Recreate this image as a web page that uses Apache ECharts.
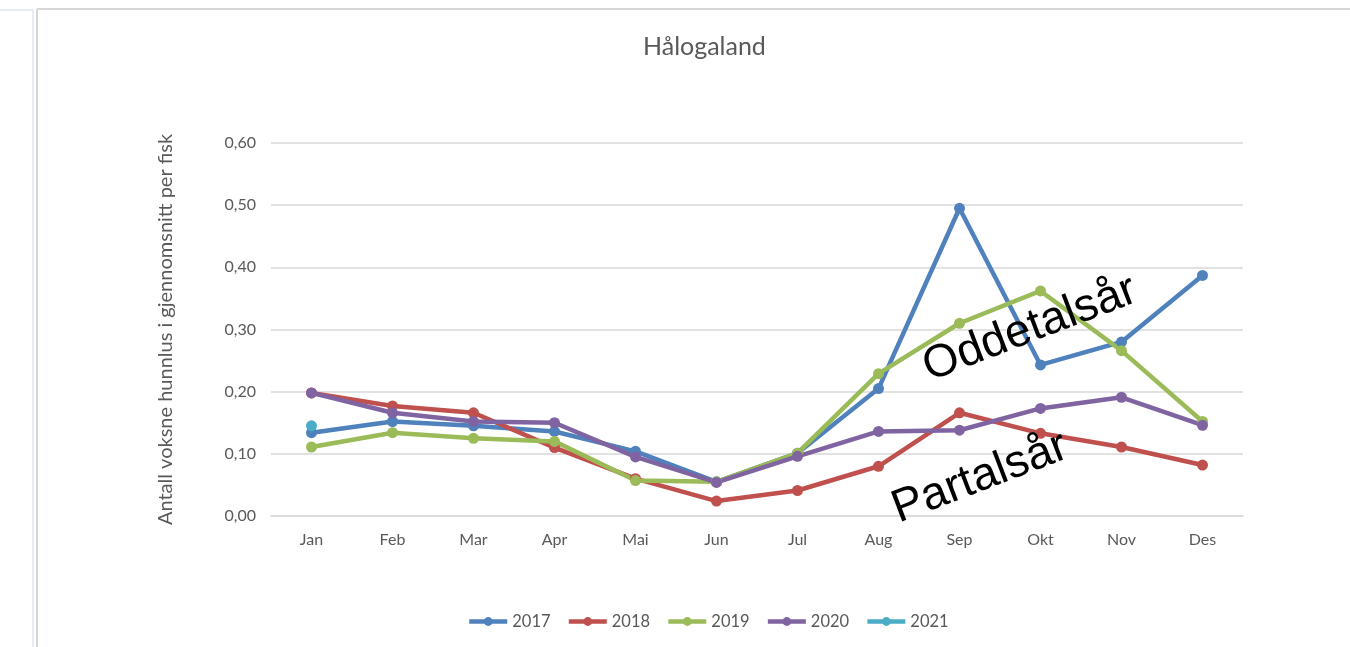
<!DOCTYPE html>
<html>
<head>
<meta charset="utf-8">
<title>Hålogaland</title>
<script src="https://cdn.jsdelivr.net/npm/echarts@6/dist/echarts.min.js"></script>
<style>
    html, body { margin: 0; padding: 0; background: #fff; }
    #chart { width: 1350px; height: 647px; }
</style>
</head>
<body>
<div id="chart"></div>
<script>
// months on the x axis
var months = ['Jan', 'Feb', 'Mar', 'Apr', 'Mai', 'Jun', 'Jul', 'Aug', 'Sep', 'Okt', 'Nov', 'Des'];
var yTicks = [0, 0.1, 0.2, 0.3, 0.4, 0.5, 0.6];

// average adult female lice per fish
var y2017 = [0.134, 0.152, 0.145, 0.136, 0.104, 0.055, 0.101, 0.205, 0.495, 0.243, 0.280, 0.387];
var y2018 = [0.198, 0.177, 0.166, 0.110, 0.060, 0.024, 0.041, 0.080, 0.166, 0.133, 0.111, 0.082];
var y2019 = [0.111, 0.134, 0.125, 0.120, 0.057, 0.055, 0.101, 0.229, 0.310, 0.362, 0.266, 0.152];
var y2020 = [0.198, 0.166, 0.152, 0.150, 0.095, 0.054, 0.096, 0.136, 0.138, 0.173, 0.191, 0.146];
var y2021 = [0.145, null, null, null, null, null, null, null, null, null, null, null];

var years = ['2017', '2018', '2019', '2020', '2021'];
var colors = ['#4f81bd', '#c0504d', '#9bbb59', '#8064a2', '#4bacc6'];
var values = [y2017, y2018, y2019, y2020, y2021];

var txtColor = '#595959';
var font = 'Lato, "Open Sans", sans-serif';

var chart = echarts.init(document.getElementById('chart'));

var series = years.map(function (name, i) {
    return {
        name: name,
        type: 'line',
        data: values[i],
        symbol: 'circle',
        symbolSize: 11,
        lineStyle: {width: 4.5},
        itemStyle: {color: colors[i]}
    };
});

var option = {
    animation: false,
    color: colors,
    title: {
        text: 'Hålogaland',
        left: 638,
        top: 29,
        textStyle: {color: txtColor, fontSize: 25, fontWeight: 'normal', fontFamily: font}
    },
    legend: {
        data: years,
        top: 608,
        left: 462,
        itemWidth: 38,
        itemHeight: 11,
        itemGap: 16,
        lineStyle: {width: 4.5},
        textStyle: {color: txtColor, fontSize: 16.5, fontFamily: font}
    },
    grid: {left: 271, right: 107, top: 143, bottom: 131},
    xAxis: {
        type: 'category',
        data: months,
        axisLine: {lineStyle: {color: '#d9d9d9', width: 1.5}},
        axisTick: {show: false},
        axisLabel: {color: txtColor, fontSize: 16, fontFamily: font, margin: 16}
    },
    yAxis: {
        type: 'value',
        min: yTicks[0],
        max: yTicks[yTicks.length - 1],
        interval: 0.1,
        name: 'Antall voksne hunnlus i gjennomsnitt per fisk',
        nameLocation: 'middle',
        nameRotate: 90,
        nameGap: 95,
        nameTextStyle: {color: txtColor, fontSize: 20, fontFamily: font},
        axisLine: {show: false},
        axisTick: {show: false},
        splitLine: {lineStyle: {color: '#d9d9d9', width: 1.5}},
        axisLabel: {
            color: txtColor, fontSize: 16, fontFamily: font, margin: 15,
            formatter: function (v) { return v.toFixed(2).replace('.', ','); }
        }
    },
    graphic: [
        // page frame around the chart
        {type: 'line', shape: {x1: 0, y1: 10, x2: 33, y2: 10}, style: {stroke: '#dce6f2', lineWidth: 1.5}},
        {type: 'line', shape: {x1: 33, y1: 10, x2: 33, y2: 647}, style: {stroke: '#dce6f2', lineWidth: 1.5}},
        {type: 'line', shape: {x1: 37, y1: 9, x2: 1350, y2: 9}, style: {stroke: '#d6d6d6', lineWidth: 2}},
        {type: 'line', shape: {x1: 37, y1: 9, x2: 37, y2: 647}, style: {stroke: '#d6d6d6', lineWidth: 2}},
        // hand-written annotations
        {
            type: 'text', x: 1030, y: 329, rotation: 21 * Math.PI / 180, z: 100,
            style: {text: 'Oddetalsår', fill: '#000', font: '46px "Liberation Sans", Arial, sans-serif',
                textAlign: 'center', textVerticalAlign: 'middle'}
        },
        {
            type: 'text', x: 980, y: 478, rotation: 21 * Math.PI / 180, z: 100,
            style: {text: 'Partalsår', fill: '#000', font: '46px "Liberation Sans", Arial, sans-serif',
                textAlign: 'center', textVerticalAlign: 'middle'}
        }
    ],
    series: series
};

chart.setOption(option);
</script>
</body>
</html>
